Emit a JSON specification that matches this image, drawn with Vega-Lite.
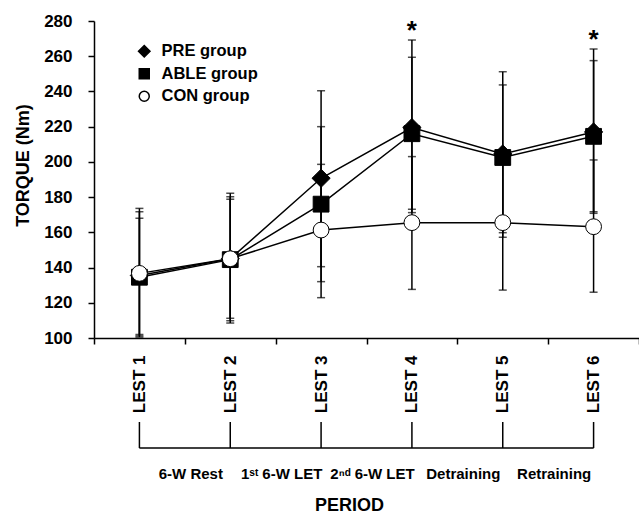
{
  "$schema": "https://vega.github.io/schema/vega-lite/v6.json",
  "width": 545,
  "height": 317,
  "autosize": {"type": "none"},
  "padding": {"left": 94, "top": 21, "right": 0, "bottom": 177},
  "background": "white",
  "config": {
    "font": "Liberation Sans",
    "view": {"stroke": null},
    "axis": {
      "domainColor": "black",
      "domainWidth": 1.5,
      "tickColor": "black",
      "tickOpacity": 1,
      "ticks": true,
      "grid": false,
      "labelFont": "Liberation Sans",
      "labelFontWeight": "bold",
      "labelFontSize": 17,
      "labelColor": "black",
      "labelOverlap": false,
      "titleFont": "Liberation Sans",
      "titleFontWeight": "bold",
      "titleFontSize": 18,
      "titleColor": "black"
    }
  },
  "datasets": {
    "main": [
      {"period": "LEST 1", "group": "ABLE group", "mean": 134.5, "lower": 102, "upper": 168},
      {"period": "LEST 2", "group": "ABLE group", "mean": 144.5, "lower": 109.8, "upper": 180.2},
      {"period": "LEST 3", "group": "ABLE group", "mean": 176, "lower": 132, "upper": 220},
      {"period": "LEST 4", "group": "ABLE group", "mean": 216, "lower": 173.1, "upper": 259.4},
      {"period": "LEST 5", "group": "ABLE group", "mean": 202.5, "lower": 159.8, "upper": 243.7},
      {"period": "LEST 6", "group": "ABLE group", "mean": 214.5, "lower": 171.7, "upper": 257.5},
      {"period": "LEST 1", "group": "PRE group", "mean": 135.5, "lower": 100.5, "upper": 173.6},
      {"period": "LEST 2", "group": "PRE group", "mean": 145, "lower": 108.5, "upper": 182.2},
      {"period": "LEST 3", "group": "PRE group", "mean": 190.7, "lower": 140.5, "upper": 240.4},
      {"period": "LEST 4", "group": "PRE group", "mean": 219.5, "lower": 171.2, "upper": 269.2},
      {"period": "LEST 5", "group": "PRE group", "mean": 204.5, "lower": 157.2, "upper": 251.2},
      {"period": "LEST 6", "group": "PRE group", "mean": 217, "lower": 170.8, "upper": 264.1},
      {"period": "LEST 1", "group": "CON group", "mean": 136.7, "lower": 101.2, "upper": 171.7},
      {"period": "LEST 2", "group": "CON group", "mean": 145, "lower": 111.2, "upper": 178.8},
      {"period": "LEST 3", "group": "CON group", "mean": 161.3, "lower": 122.9, "upper": 198.6},
      {"period": "LEST 4", "group": "CON group", "mean": 165.5, "lower": 127.6, "upper": 203},
      {"period": "LEST 5", "group": "CON group", "mean": 165.5, "lower": 127.2, "upper": 203.8},
      {"period": "LEST 6", "group": "CON group", "mean": 163.2, "lower": 126, "upper": 201.1}
    ],
    "stars": [
      {"period": "LEST 4", "top": 269.2},
      {"period": "LEST 6", "top": 264.1}
    ],
    "lest": [
      {"period": "LEST 1"}, {"period": "LEST 2"}, {"period": "LEST 3"},
      {"period": "LEST 4"}, {"period": "LEST 5"}, {"period": "LEST 6"}
    ],
    "phases": [
      {"start": "LEST 1", "label": "6-W Rest"},
      {"start": "LEST 2", "label": "1ˢᵗ 6-W LET"},
      {"start": "LEST 3", "label": "2ⁿᵈ 6-W LET"},
      {"start": "LEST 4", "label": "Detraining"},
      {"start": "LEST 5", "label": "Retraining"}
    ]
  },
  "encoding": {
    "x": {
      "field": "period",
      "type": "nominal",
      "scale": {"type": "band", "domain": ["LEST 1", "LEST 2", "LEST 3", "LEST 4", "LEST 5", "LEST 6"], "paddingInner": 0, "paddingOuter": 0},
      "axis": {
        "title": "PERIOD",
        "labelAngle": -90,
        "ticks": true,
        "tickBand": "extent",
        "tickSize": 6,
        "tickWidth": 1.5,
        "tickColor": "black",
        "tickOpacity": 1,
        "labelPadding": 11,
        "titleX": 255,
        "titleY": 167,
        "titleBaseline": "middle",
        "titleAnchor": null
      }
    }
  },
  "layer": [
    {
      "data": {"name": "main"},
      "mark": {"type": "rule", "color": "black", "strokeWidth": 1.5},
      "encoding": {
        "y": {
          "field": "lower",
          "type": "quantitative",
          "scale": {"domain": [100, 280], "nice": false, "zero": false},
          "axis": {
            "title": "TORQUE (Nm)",
            "tickCount": 10,
            "labelOverlap": false,
            "ticks": true,
            "tickSize": 6,
            "tickWidth": 1.5,
            "tickColor": "black",
            "tickOpacity": 1,
            "labelPadding": 16,
            "titleX": -71,
            "titleY": 144,
            "titleAngle": -90,
            "titleAlign": "center",
            "titleBaseline": "middle"
          }
        },
        "y2": {"field": "upper"}
      }
    },
    {
      "data": {"name": "main"},
      "mark": {"type": "tick", "color": "black", "size": 8, "thickness": 1.5, "orient": "horizontal"},
      "encoding": {"y": {"field": "lower", "type": "quantitative"}}
    },
    {
      "data": {"name": "main"},
      "mark": {"type": "tick", "color": "black", "size": 8, "thickness": 1.5, "orient": "horizontal"},
      "encoding": {"y": {"field": "upper", "type": "quantitative"}}
    },
    {
      "data": {"name": "main"},
      "mark": {"type": "line", "color": "black", "strokeWidth": 1.5},
      "encoding": {
        "y": {"field": "mean", "type": "quantitative"},
        "detail": {"field": "group", "type": "nominal"}
      }
    },
    {
      "data": {"name": "main"},
      "mark": {"type": "point", "filled": true, "stroke": "black", "strokeWidth": 1, "opacity": 1},
      "encoding": {
        "y": {"field": "mean", "type": "quantitative"},
        "shape": {
          "field": "group",
          "type": "nominal",
          "scale": {"domain": ["PRE group", "ABLE group", "CON group"], "range": ["M-1.15,0L0,-1.15L1.15,0L0,1.15Z", "square", "circle"]},
          "legend": {
            "title": null,
            "orient": "none",
            "legendX": 42,
            "legendY": 22,
            "padding": 0,
            "rowPadding": 5.5,
            "labelOffset": 9,
            "labelFontSize": 16.5,
            "labelFontWeight": "bold",
            "labelColor": "black"
          }
        },
        "fill": {
          "field": "group",
          "type": "nominal",
          "scale": {"domain": ["PRE group", "ABLE group", "CON group"], "range": ["black", "black", "white"]}
        },
        "size": {"value": 250}
      }
    },
    {
      "data": {"name": "stars"},
      "mark": {"type": "text", "text": "*", "fontSize": 26, "fontWeight": "bold", "baseline": "alphabetic", "dy": -1, "color": "black"},
      "encoding": {"y": {"field": "top", "type": "quantitative"}}
    },
    {
      "data": {"name": "lest"},
      "mark": {"type": "rule", "color": "black", "strokeWidth": 1.5},
      "encoding": {
        "y": {"datum": 52.3, "type": "quantitative"},
        "y2": {"datum": 37.5}
      }
    },
    {
      "data": {"values": [{}]},
      "mark": {"type": "rule", "color": "black", "strokeWidth": 1.5},
      "encoding": {
        "x": {"datum": "LEST 1", "type": "nominal", "bandPosition": 0.5},
        "x2": {"datum": "LEST 6", "bandPosition": 0.5},
        "y": {"datum": 37.5, "type": "quantitative"}
      }
    },
    {
      "data": {"name": "phases"},
      "mark": {"type": "text", "fontSize": 15, "fontWeight": "bold", "color": "black", "baseline": "middle", "dx": 6},
      "encoding": {
        "x": {"field": "start", "type": "nominal", "bandPosition": 1},
        "y": {"datum": 22.8, "type": "quantitative"},
        "text": {"field": "label"}
      }
    }
  ]
}
